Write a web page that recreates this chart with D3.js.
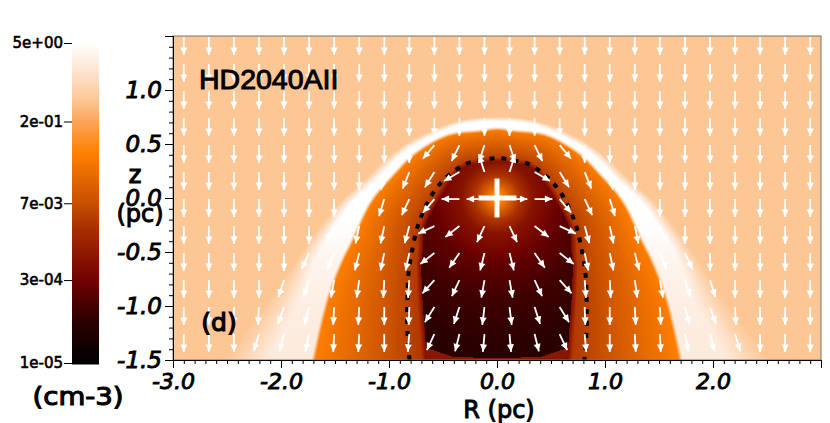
<!DOCTYPE html>
<html>
<head>
<meta charset="utf-8">
<script src="https://cdn.jsdelivr.net/npm/d3@7"></script>
<style>
  body { margin: 0; background: #fff; }
  svg { display: block; }
  text { font-family: "DejaVu Sans", sans-serif; fill: #000; stroke: #000; }
</style>
</head>
<body>
<script>
const xTicks = [-3, -2, -1, 0, 1, 2];
const yTicks = [-1.5, -1, -0.5, 0, 0.5, 1];
const densityTicks = [5, 2e-1, 7e-3, 3e-4, 1e-5];
const densityLabels = ["5e+00", "2e-01", "7e-03", "3e-04", "1e-05"];

// colour table of the bar: log10 density -> colour
const stopLog = [-5, -4.2, -3.56, -2.65, -2.15, -1.26, -0.7, -0.32, 0.3, 0.7];
const stopColor = ["#000000", "#300000", "#6e0000", "#a62c00", "#c85000", "#ff8000", "#fba458", "#fdc795", "#fdeadb", "#ffffff"];

// region outlines, right half, R and z in pc
const outerR = [0, 0.34, 0.71, 0.96, 1.26, 1.44, 1.70, 1.86, 2.11, 2.52];
const outerZ = [0.75, 0.72, 0.58, 0.42, 0.14, -0.02, -0.34, -0.57, -0.94, -1.5];
const ridgeR = [0, 0.34, 0.62, 0.86, 1.14, 1.32, 1.52, 1.68, 1.82, 2.14];
const ridgeZ = [0.71, 0.68, 0.56, 0.42, 0.14, -0.02, -0.30, -0.57, -0.94, -1.5];
const innerR = [0, 0.16, 0.46, 0.78, 0.96, 1.18, 1.36, 1.45, 1.59, 1.72];
const innerZ = [0.66, 0.64, 0.60, 0.42, 0.24, -0.02, -0.39, -0.57, -0.94, -1.5];
const cavityR = [0, 0.2, 0.31, 0.42, 0.5, 0.67, 0.69, 0.70, 0.69, 0.67, 0.65];
const cavityZ = [0.33, 0.31, 0.28, 0.17, 0.05, -0.27, -0.51, -0.62, -0.94, -1.22, -1.5];
const dashR = [0, 0.14, 0.28, 0.41, 0.51, 0.62, 0.73, 0.79, 0.82, 0.83, 0.83, 0.81];
const dashZ = [0.37, 0.35, 0.32, 0.24, 0.15, 0, -0.25, -0.51, -0.71, -0.97, -1.22, -1.5];
const floorR = [0, 0.41, 0.65];
const floorZ = [-1.485, -1.47, -1.39];

// log10 density levels inside the regions
const ambientLog = -0.32;
const shellZ = [0.75, -0.2, -0.6, -1, -1.5];
const shellLog = [0.7, 0.7, 0.5, 0.38, 0.3];
const bandLog = [-1.26, -2.55];
const cavityEdgeLog = -3.3;
const floorLog = -3.1;
const coreDist = [0, 0.05, 0.12, 0.2, 0.33, 0.62, 0.95, 1.4, 1.8];
const coreLog = [-1, -1.26, -1.9, -2.5, -3.15, -3.7, -4.05, -4.3, -4.4];

// velocity arrows, tail positions in pc, angle from straight down, positive = outward
const arrowCols = [0.116, 0.348, 0.58, 0.812, 1.044, 1.276, 1.508, 1.74, 1.972, 2.204, 2.436, 2.668, 2.9];
const arrowRows = [1.49, 1.24, 0.99, 0.74, 0.49, 0.24, -0.01, -0.26, -0.51, -0.76, -1.01, -1.26];
const arrowAngles = [
  [0, 0, 0, 0, 0, 0, 0, 0, 0, 0, 0, 0, 0],
  [0, 0, 0, 0, 0, 0, 0, 0, 0, 0, 0, 0, 0],
  [0, 0, 0, 0, 0, 0, 0, 0, 0, 0, 0, 0, 0],
  [0, 0, 0, 0, 0, 0, 0, 0, 0, 0, 0, 0, 0],
  [18, 26, 40, 0, 0, 0, 0, 0, 0, 0, 0, 0, 0],
  [162, 60, 32, 22, 10, 0, 0, 0, 0, 0, 0, 0, 0],
  [90, 90, 40, 25, 17, 18, 0, 0, 0, 0, 0, 0, 0],
  [25, 52, 65, 15, 12, 12, 25, 0, 0, 0, 0, 0, 0],
  [14, 35, 52, 12, 12, 14, 22, 25, 0, 0, 0, 0, 0],
  [10, 25, 42, 4, 3, 8, 10, 18, 18, 0, 0, 0, 0],
  [7, 18, 32, 2, 0, 3, 3, 15, 20, 3, 0, 0, 0],
  [5, 14, 25, 5, 0, 3, 3, 12, 15, 17, 0, 0, 0],
];
const arrowLength = 0.165;

const w = 830;
const h = 423;
const x = d3.scaleLinear().domain([-3, 3]).range([173, 821]);
const y = d3.scaleLinear().domain([-1.5, 1.5]).range([360, 36]);
const barY = d3.scaleLog().domain([1e-5, 5]).range([363, 43]);
const color = d3.scaleLinear().domain(stopLog).range(stopColor).clamp(true);

const svg = d3.select("body").append("svg").attr("width", w).attr("height", h);

const mirrorLine = d3.line().x((d) => x(d[0])).y((d) => y(d[1])).curve(d3.curveCatmullRom.alpha(0.5));

function mirrored(rs, zs) {
  const right = rs.map((r, i) => [r, zs[i]]);
  const left = right.slice(1).reverse().map((p) => [-p[0], p[1]]);
  return left.concat(right);
}

// smooth outline as a polyline in pixels
function outline(rs, zs) {
  const path = svg.append("path").attr("d", mirrorLine(mirrored(rs, zs))).node();
  const len = path.getTotalLength();
  const pts = d3.range(0, 121).map((i) => {
    const p = path.getPointAtLength((len * i) / 120);
    return [p.x, p.y];
  });
  path.remove();
  return pts;
}

function distance(poly, px, py) {
  let best = Infinity;
  for (let i = 0; i < poly.length - 1; i++) {
    const ax = poly[i][0], ay = poly[i][1];
    const dx = poly[i + 1][0] - ax, dy = poly[i + 1][1] - ay;
    const t = Math.max(0, Math.min(1, ((px - ax) * dx + (py - ay) * dy) / (dx * dx + dy * dy)));
    const ex = ax + t * dx - px, ey = ay + t * dy - py;
    const d = ex * ex + ey * ey;
    if (d < best) best = d;
  }
  return Math.sqrt(best);
}

const outerLine = outline(outerR, outerZ);
const ridgeLine = outline(ridgeR, ridgeZ);
const innerLine = outline(innerR, innerZ);
const cavityLine = outline(cavityR, cavityZ);
const shellLevel = d3.scaleLinear().domain(shellZ).range(shellLog).clamp(true);
const coreLevel = d3.scaleLinear().domain(coreDist).range(coreLog).clamp(true);
const floorLevel = d3.scaleLinear().domain(floorR).range(floorZ).clamp(true);

function logDensity(px, py) {
  const R = x.invert(px), z = y.invert(py);
  if (!d3.polygonContains(outerLine, [px, py])) return ambientLog;
  const shell = shellLevel(z);
  if (!d3.polygonContains(ridgeLine, [px, py])) {
    const a = distance(outerLine, px, py), b = distance(ridgeLine, px, py);
    return ambientLog + (shell - ambientLog) * (a / (a + b));
  }
  if (!d3.polygonContains(innerLine, [px, py])) return shell;
  if (!d3.polygonContains(cavityLine, [px, py])) {
    const a = distance(innerLine, px, py), b = distance(cavityLine, px, py);
    let v = bandLog[0] + (bandLog[1] - bandLog[0]) * (a / (a + b));
    if (a < 4) v = shell + (v - shell) * (a / 4);
    if (b < 5) v = cavityEdgeLog + (v - cavityEdgeLog) * (b / 5);
    return v;
  }
  if (z < floorLevel(Math.abs(R))) return floorLog;
  return coreLevel(Math.hypot(R, z));
}

// density image
const fieldW = x.range()[1] - x.range()[0];
const fieldH = y.range()[0] - y.range()[1];
const canvas = document.createElement("canvas");
canvas.width = fieldW;
canvas.height = fieldH;
const ctx = canvas.getContext("2d");
const img = ctx.createImageData(fieldW, fieldH);
for (let j = 0; j < fieldH; j++) {
  for (let i = 0; i < fieldW; i++) {
    const c = d3.rgb(color(logDensity(x.range()[0] + i + 0.5, y.range()[1] + j + 0.5)));
    const k = (j * fieldW + i) * 4;
    img.data[k] = c.r;
    img.data[k + 1] = c.g;
    img.data[k + 2] = c.b;
    img.data[k + 3] = 255;
  }
}
ctx.putImageData(img, 0, 0);
svg.append("image")
  .attr("x", x.range()[0])
  .attr("y", y.range()[1])
  .attr("width", fieldW)
  .attr("height", fieldH)
  .attr("href", canvas.toDataURL());

// dashed contour
svg.append("path")
  .attr("d", mirrorLine(mirrored(dashR, dashZ)))
  .attr("fill", "none")
  .attr("stroke", "#000")
  .attr("stroke-width", 4)
  .attr("stroke-dasharray", "5 7");

// arrows
svg.append("defs").append("marker")
  .attr("id", "head")
  .attr("markerUnits", "userSpaceOnUse")
  .attr("markerWidth", 9)
  .attr("markerHeight", 9)
  .attr("refX", 8)
  .attr("refY", 4.5)
  .attr("orient", "auto")
  .append("path")
  .attr("d", "M0.5,1 L8,4.5 L0.5,8 Z")
  .attr("fill", "#fff");

const arrows = [];
arrowRows.forEach((z, i) => {
  arrowCols.forEach((r, j) => {
    [1, -1].forEach((side) => arrows.push({ r: r * side, z: z, a: (arrowAngles[i][j] * side * Math.PI) / 180 }));
  });
});
svg.append("g")
  .selectAll("line")
  .data(arrows)
  .enter()
  .append("line")
  .attr("x1", (d) => x(d.r))
  .attr("y1", (d) => y(d.z))
  .attr("x2", (d) => x(d.r + arrowLength * Math.sin(d.a)))
  .attr("y2", (d) => y(d.z - arrowLength * Math.cos(d.a)))
  .attr("stroke", "#fff")
  .attr("stroke-width", 1.8)
  .attr("marker-end", "url(#head)");

// star
svg.append("line").attr("x1", x(-0.17)).attr("x2", x(0.18)).attr("y1", y(0)).attr("y2", y(0)).attr("stroke", "#fff").attr("stroke-width", 5);
svg.append("line").attr("x1", x(0)).attr("x2", x(0)).attr("y1", y(0.18)).attr("y2", y(-0.18)).attr("stroke", "#fff").attr("stroke-width", 5);

// frame
svg.append("rect")
  .attr("x", x.range()[0])
  .attr("y", y.range()[1])
  .attr("width", fieldW)
  .attr("height", fieldH)
  .attr("fill", "none")
  .attr("stroke", "#7d7268");

// axes
const minorX = d3.range(-30, 30).map((d) => d / 10);
const minorY = d3.range(-15, 16).map((d) => d / 10);
svg.append("g")
  .attr("transform", `translate(0, ${y.range()[0]})`)
  .call(d3.axisBottom(x).tickValues(minorX).tickSize(4).tickFormat(""));
const xAxis = svg.append("g")
  .attr("transform", `translate(0, ${y.range()[0]})`)
  .call(d3.axisBottom(x).tickValues(xTicks).tickSize(8).tickPadding(5).tickFormat((d) => d.toFixed(1)));
xAxis.selectAll("text")
  .style("font-size", "22px")
  .style("font-style", "italic")
  .attr("stroke-width", 0.9);
svg.append("g")
  .attr("transform", `translate(${x.range()[0]}, 0)`)
  .call(d3.axisLeft(y).tickValues(minorY).tickSize(4).tickFormat(""));
const yAxis = svg.append("g")
  .attr("transform", `translate(${x.range()[0]}, 0)`)
  .call(d3.axisLeft(y).tickValues(yTicks).tickSize(8).tickPadding(3).tickFormat((d) => d.toFixed(1)));
yAxis.selectAll("text")
  .style("font-size", "23px")
  .style("font-style", "italic")
  .attr("stroke-width", 0.9);

// colour bar
svg.append("g")
  .selectAll("rect")
  .data(d3.range(0, 321))
  .enter()
  .append("rect")
  .attr("x", 72)
  .attr("y", (d) => 43 + d)
  .attr("width", 27)
  .attr("height", 1.5)
  .attr("fill", (d) => color(Math.log10(barY.invert(43 + d + 0.5))));
const barAxis = svg.append("g")
  .attr("transform", "translate(72, 0)")
  .call(d3.axisLeft(barY).tickValues(densityTicks).tickSize(8).tickPadding(1).tickFormat((d, i) => densityLabels[i]));
barAxis.select(".domain").remove();
barAxis.selectAll("text").style("font-size", "15px").attr("stroke-width", 0.6);

function label(txt, px, py, size, anchor, weight, family) {
  return svg.append("text")
    .attr("x", px)
    .attr("y", py)
    .attr("text-anchor", anchor)
    .style("font-size", size + "px")
    .style("font-family", family || null)
    .attr("stroke-width", weight)
    .text(txt);
}

label("HD2040AII", 199, 89, 28.5, "start", 1, '"Liberation Sans", sans-serif');
label("(d)", 219, 331, 25, "middle", 1.2);
label("R (pc)", 499, 418, 24, "middle", 1);
label("z", 135, 183, 24, "middle", 1.2);
label("(pc)", 140, 222, 24, "middle", 1);
label("(cm-3)", 78, 405, 25, "middle", 1.1).attr("textLength", 91).attr("lengthAdjust", "spacingAndGlyphs");
</script>
</body>
</html>
